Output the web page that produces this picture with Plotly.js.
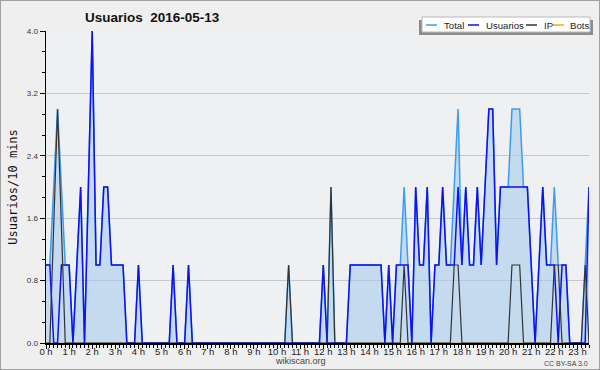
<!DOCTYPE html>
<html><head><meta charset="utf-8">
<script src="https://cdn.plot.ly/plotly-3.0.1.min.js"></script>
<style>
html,body{margin:0;padding:0;background:#efefef;}
#chart{width:598px;height:368px;border:1px solid #a0a0a0;}
</style></head><body>
<div id="chart"></div>
<script>
// 10-minute slots from 00:00 to 23:30 (one row per hour)
const usuarios = [
  1,1,0,0,1,1,  1,0,1,2,0,2,  4,1,1,2,2,1,  1,1,1,0,0,0,
  1,0,0,0,0,0,  0,0,0,1,0,0,  0,1,0,0,0,0,  0,0,0,0,0,0,
  0,0,0,0,0,0,  0,0,0,0,0,0,  0,0,0,0,0,0,  0,0,0,0,0,0,
  1,0,0,0,0,0,  0,1,1,1,1,1,  1,1,1,1,0,1,  0,1,1,1,1,0,
  2,1,1,2,0,1,  1,2,1,1,1,2,  1,2,1,1,2,1,  2,3,3,1,2,2,
  2,2,2,2,2,2,  1,0,1,2,1,1,  1,0,1,1,0,0,  0,0,0,2
];
const total = [
  1,1,2,3,2,1,  1,0,1,2,0,2,  4,1,1,2,2,1,  1,1,1,0,0,0,
  1,0,0,0,0,0,  0,0,0,1,0,0,  0,1,0,0,0,0,  0,0,0,0,0,0,
  0,0,0,0,0,0,  0,0,0,0,0,0,  0,0,0,1,0,0,  0,0,0,0,0,0,
  1,0,2,0,0,0,  0,1,1,1,1,1,  1,1,1,1,0,1,  0,1,1,2,1,0,
  2,1,1,2,0,1,  1,2,1,1,2,3,  1,2,1,1,2,1,  2,3,3,1,2,2,
  2,3,3,3,2,2,  1,0,1,2,1,1,  2,1,1,1,0,0,  0,0,1,2
];
const ip = [
  0,0,1.5,3,1.5,0,  0,0,0,0,0,0,  0,0,0,0,0,0,  0,0,0,0,0,0,
  0,0,0,0,0,0,  0,0,0,0,0,0,  0,0,0,0,0,0,  0,0,0,0,0,0,
  0,0,0,0,0,0,  0,0,0,0,0,0,  0,0,0,1,0,0,  0,0,0,0,0,0,
  0,0,2,0,0,0,  0,0,0,0,0,0,  0,0,0,0,0,0,  0,0,0,1,0,0,
  0,0,0,0,0,0,  0,0,0,0,1,1,  0,0,0,0,0,0,  0,0,0,0,0,0,
  0,1,1,1,0,0,  0,0,0,0,0,0,  1,1,0,0,0,0,  0,0,1,0
];
const bots = [
  0,0,0,0,0,0,  0,0,0,0,0,0,  0,0,0,0,0,0,  0,0,0,0,0,0,
  0,0,0,0,0,0,  0,0,0,0,0,0,  0,0,0,0,0,0,  0,0,0,0,0,0,
  0,0,0,0,0,0,  0,0,0,0,0,0,  0,0,0,0,0,0,  0,0,0,0,0,0,
  0,0,0,0,0,0,  0,0,0,0,0,0,  0,0,0,0,0,0,  0,0,0,0,0,0,
  0,0,0,0,0,0,  0,0,0,0,0,0,  0,0,0,0,0,0,  0,0,0,0,0,0,
  0,0,0,0,0,0,  0,0,0,0,0,0,  0,0,0,0,0,0,  0,0,0,0
];
const seriesNames = ['Total', 'Usuarios', 'IP', 'Bots'];
const seriesColors = ['#3a9cf2', '#1010f5', '#333333', '#ffa500'];
const slotMinutes = 10;
const titleText = 'Usuarios\u00a0\u00a02016-05-13';
const yTitle = 'Usuarios/10 mins';

const hours = usuarios.map((_, i) => i * slotMinutes / 60);

const W = 598, H = 368, M = {l: 45, r: 10, t: 30, b: 26};
const pw = W - M.l - M.r, ph = H - M.t - M.b;
const fx = px => (px - 1 - M.l) / pw;
const fy = py => (H - M.b - (py - 1)) / ph;

const traces = [
  {x: hours, y: bots, name: 'Bots', mode: 'lines', line: {color: seriesColors[3], width: 1.3}, hoverinfo: 'skip'},
  {x: hours, y: total, name: 'Total', mode: 'lines', fill: 'tozeroy', fillcolor: 'rgba(160,200,236,0.55)',
   line: {color: seriesColors[0], width: 1.5}, hoverinfo: 'skip'},
  {x: hours, y: usuarios, name: 'Usuarios', mode: 'lines', line: {color: seriesColors[1], width: 1.5}, hoverinfo: 'skip'},
  {x: hours, y: ip, name: 'IP', mode: 'lines', line: {color: seriesColors[2], width: 1.2}, hoverinfo: 'skip'}
];

const shapes = [
  {type: 'rect', xref: 'paper', yref: 'paper', x0: fx(419), x1: fx(593), y0: fy(35), y1: fy(20),
   fillcolor: '#8c8c8c', line: {width: 0}, layer: 'above'},
  {type: 'rect', xref: 'paper', yref: 'paper', x0: fx(422), x1: fx(590), y0: fy(32), y1: fy(17),
   fillcolor: '#ffffff', line: {color: '#b8b8b8', width: 1}, layer: 'above'}
];
const legendLineX = [426, 468, 526, 553];
const legendTextX = [442, 484, 542, 568];
const annotations = [];
[0, 1, 2, 3].forEach(k => {
  shapes.push({type: 'line', xref: 'paper', yref: 'paper', x0: fx(legendLineX[k]), x1: fx(legendLineX[k] + 11),
    y0: fy(25), y1: fy(25), line: {color: seriesColors[k], width: 1.5}, layer: 'above'});
  annotations.push({xref: 'paper', yref: 'paper', x: fx(legendTextX[k]), y: fy(25), xanchor: 'left', yanchor: 'middle',
    text: seriesNames[k], showarrow: false, font: {family: 'Liberation Sans, Arial, sans-serif', size: 9.6, color: '#222'}});
});
annotations.push({xref: 'paper', yref: 'paper', x: fx(300), y: fy(361), xanchor: 'center', yanchor: 'middle',
  text: 'wikiscan.org', showarrow: false, font: {family: 'Liberation Sans, Arial, sans-serif', size: 9, color: '#444'}});
annotations.push({xref: 'paper', yref: 'paper', x: fx(590), y: fy(363), xanchor: 'right', yanchor: 'middle',
  text: 'CC BY-SA 3.0', showarrow: false, font: {family: 'Liberation Sans, Arial, sans-serif', size: 7, color: '#444'}});

const layout = {
  width: W, height: H,
  margin: M,
  paper_bgcolor: '#efefef',
  plot_bgcolor: '#eef0f2',
  showlegend: false,
  title: {text: titleText, x: (85 - 1) / W, xanchor: 'left', xref: 'container',
          y: 1 - (17 - 1) / H, yanchor: 'middle', yref: 'container',
          font: {family: 'Liberation Sans, Arial, sans-serif', size: 13.5, color: '#111', weight: 'bold'}},
  xaxis: {
    range: [0, hours[hours.length - 1]], tick0: 0, dtick: 1, ticksuffix: ' h',
    ticks: 'outside', ticklen: 4, tickwidth: 1, tickcolor: '#000', ticklabelstandoff: -5,
    showline: true, linecolor: '#000', linewidth: 1.5, showgrid: false, zeroline: false,
    tickfont: {family: 'Liberation Sans, Arial, sans-serif', size: 9.5, color: '#222'},
    minor: {dtick: slotMinutes / 60, ticks: 'outside', ticklen: 3, tickcolor: '#000', tickwidth: 1, showgrid: false},
    fixedrange: true
  },
  yaxis: {
    range: [0, 4], tick0: 0, dtick: 0.8, tickformat: '.1f',
    ticks: 'outside', ticklen: 5, tickwidth: 1, tickcolor: '#000',
    showline: true, linecolor: '#000', linewidth: 1.5,
    showgrid: true, gridcolor: '#c8c8c8', gridwidth: 1, zeroline: false,
    tickfont: {family: 'Liberation Sans, Arial, sans-serif', size: 8, color: '#333'},
    minor: {dtick: 0.8 / 3, ticks: 'outside', ticklen: 3, tickcolor: '#000', tickwidth: 1, showgrid: false},
    title: {text: yTitle, standoff: 6, font: {family: 'DejaVu Sans Mono, monospace', size: 12, color: '#111'}},
    fixedrange: true
  },
  shapes: shapes,
  annotations: annotations
};

Plotly.newPlot('chart', traces, layout, {displayModeBar: false, staticPlot: true});
</script>
</body></html>
